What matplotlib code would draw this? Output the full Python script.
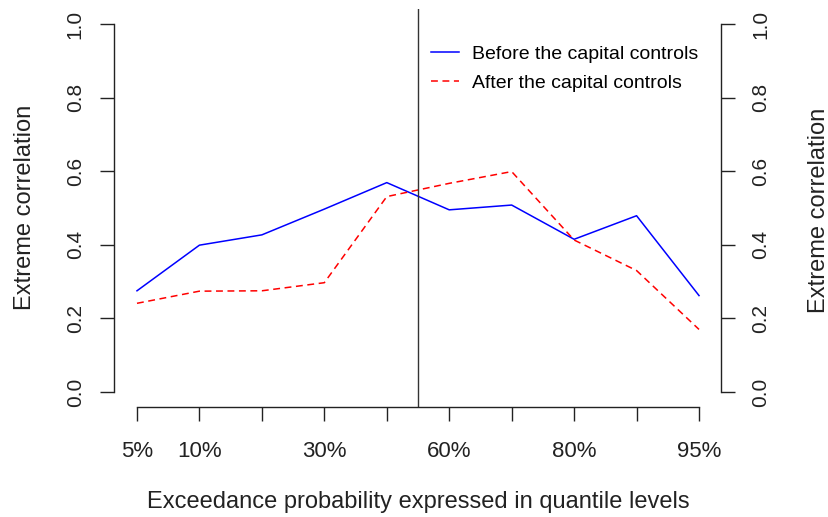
import numpy as np
import matplotlib.pyplot as plt

plt.rcParams['font.family'] = ['Liberation Sans', 'DejaVu Sans']

# quantile levels and extreme correlations
quantiles = [5, 10, 20, 30, 40, 60, 70, 80, 90, 95]
labelled = [5, 10, 30, 60, 80, 95]
before = [0.275, 0.399, 0.427, 0.497, 0.569, 0.495, 0.508, 0.415, 0.479, 0.262]
after = [0.241, 0.274, 0.275, 0.297, 0.531, 0.567, 0.599, 0.413, 0.330, 0.170]
split_at = 5.5  # between 40% and 60%

ink = '#222222'
W, H = 829, 517
fig = plt.figure(figsize=(W / 100, H / 100), dpi=100)
left, right, top, bottom = 114.5, 721.5, 9.3, 406.7
ax = fig.add_axes([left / W, 1 - bottom / H, (right - left) / W, (bottom - top) / H])

x = np.arange(1, len(quantiles) + 1)
ax.plot(x, before, color='#0000FF', lw=1.1, label='Before the capital controls')
ax.plot(x, after, color='#FF0000', lw=1.1, dashes=(4.5, 3), label='After the capital controls')
ax.axvline(split_at, color='#333333', lw=1.0)

ax.set_xlim(1 - 0.36, len(x) + 0.36)
ax.set_ylim(-0.04, 1.04)

# R-style axes: spines only over the tick range
ax.spines['top'].set_visible(False)
ax.spines['left'].set_bounds(0, 1)
ax.spines['right'].set_bounds(0, 1)
ax.spines['bottom'].set_bounds(1, len(x))
for s in ['left', 'right', 'bottom']:
    ax.spines[s].set_linewidth(1.0)
    ax.spines[s].set_color(ink)

ax.set_xticks(x)
ax.set_xticklabels([f'{q}%' if q in labelled else '' for q in quantiles])
yt = np.arange(0, 1.01, 0.2)
ax.set_yticks(yt)
ax.set_yticklabels([f'{v:.1f}' for v in yt])
ax.tick_params(axis='both', direction='out', length=10, width=1.0, color=ink,
               labelcolor=ink)
ax.tick_params(axis='x', pad=15, labelsize=16)
ax.tick_params(axis='y', pad=11.5, labelsize=15, left=True, right=True,
               labelleft=True, labelright=True)
for t in ax.yaxis.get_major_ticks():
    for lab in (t.label1, t.label2):
        lab.set_rotation(90)
        lab.set_va('center')

fig.text(418 / W, 1 - 502 / H, 'Exceedance probability expressed in quantile levels',
         fontsize=17, color=ink, ha='center', va='center')
fig.text(25 / W, 1 - 207 / H, 'Extreme correlation', fontsize=17, color=ink,
         rotation=90, ha='center', va='center')
fig.text(819 / W, 1 - 210 / H, 'Extreme correlation', fontsize=17, color=ink,
         rotation=90, ha='center', va='center')

ax.legend(loc='upper left', bbox_to_anchor=(431 / W, 1 - 45 / H),
          bbox_transform=fig.transFigure, frameon=False, fontsize=14,
          handlelength=1.43, handletextpad=0.67, labelspacing=0.6,
          borderpad=0, borderaxespad=0)

fig.savefig('out.png', dpi=100)
